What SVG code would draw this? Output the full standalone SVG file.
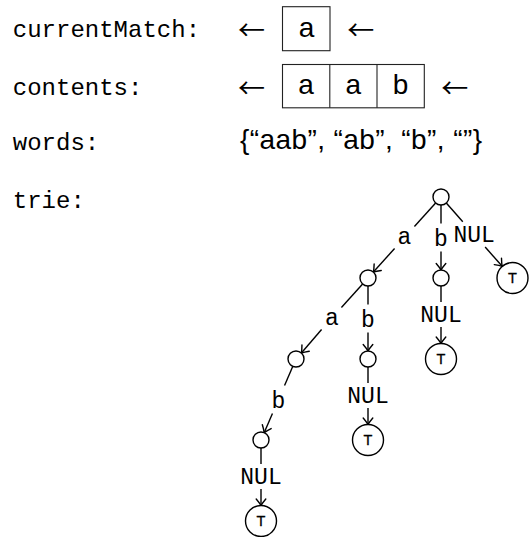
<svg xmlns="http://www.w3.org/2000/svg" width="529" height="537" viewBox="0 0 529 537">
<style>
.lbl{font-family:"Liberation Mono","DejaVu Sans Mono",monospace;font-size:24px;fill:#000}
.sans{font-family:"Liberation Sans",Arial,sans-serif;font-size:28px;fill:#000}
.arw{font-family:"Noto Sans CJK SC","DejaVu Sans",sans-serif;font-size:27px;fill:#000}
.cell{fill:none;stroke:#222;stroke-width:1.1}
.tl{font-family:"Liberation Mono","DejaVu Sans Mono",monospace;font-size:23px;fill:#000;text-anchor:middle}
.nd{fill:#fff;stroke:#000;stroke-width:1.4}
.tt{font-family:"Liberation Sans",Arial,sans-serif;font-size:14.5px;fill:#000;stroke:#000;stroke-width:0.3;text-anchor:middle}
.e{fill:none;stroke:#000;stroke-width:1.4}
.mid{text-anchor:middle}
</style>
<defs>
<marker id="arr" viewBox="-9 -7 11 14" refX="0" refY="0" markerWidth="11" markerHeight="14" orient="auto" markerUnits="userSpaceOnUse">
<path d="M-6.5,-4.8 Q-2.5,-1.4 0,0 Q-2.5,1.4 -6.5,4.8" fill="none" stroke="#000" stroke-width="1.4" stroke-linecap="round"/>
</marker>
</defs>
<rect width="529" height="537" fill="#fff"/>

<g id="labels">
<text class="lbl" x="12.8" y="36.5">currentMatch:</text>
<text class="lbl" x="12.8" y="94.5">contents:</text>
<text class="lbl" x="12.8" y="150">words:</text>
<text class="lbl" x="12.8" y="208.3">trie:</text>
</g>

<g id="currentMatch">
<text class="arw" x="238" y="39.5">←</text>
<rect class="cell" x="282.5" y="6.7" width="47.5" height="44"/>
<text class="sans mid" x="306.5" y="36.7">a</text>
<text class="arw" x="347.3" y="39.5">←</text>
</g>

<g id="contents">
<text class="arw" x="238" y="97.8">←</text>
<rect class="cell" x="282.5" y="64.5" width="141.8" height="43.3"/>
<line class="cell" x1="329.8" y1="64.5" x2="329.8" y2="107.8"/>
<line class="cell" x1="377" y1="64.5" x2="377" y2="107.8"/>
<text class="sans mid" x="306" y="94.3">a</text>
<text class="sans mid" x="353.4" y="94.3">a</text>
<text class="sans mid" x="400.6" y="94.3">b</text>
<text class="arw" x="441.3" y="97.8">←</text>
</g>

<g id="words">
<text class="sans" x="240" y="148.5" textLength="242">{“aab”, “ab”, “b”, “”}</text>
</g>

<g id="connectors">
<path class="e" d="M435.64,202.94 L414.41,226.5"/>
<path class="e" d="M394.58,248.5 L373.36,272.06" marker-end="url(#arr)"/>
<text class="tl" x="404.5" y="243.55">a</text>

<path class="e" d="M441,205 L441,223.5"/>
<path class="e" d="M441,251.5 L441,270" marker-end="url(#arr)"/>
<text class="tl" x="441" y="245.85">b</text>

<path class="e" d="M446.29,203 L462.8,221.7"/>
<path class="e" d="M485.13,247 L502.2,266.3" marker-end="url(#arr)"/>
<text class="tl" x="474.1" y="242.4">NUL</text>

<path class="e" d="M362.64,283.94 L341.41,307.5"/>
<path class="e" d="M321.58,329.5 L301.36,353.06" marker-end="url(#arr)"/>
<text class="tl" x="332" y="324.55">a</text>

<path class="e" d="M368,286 L368,304.5"/>
<path class="e" d="M368,332.5 L368,351" marker-end="url(#arr)"/>
<text class="tl" x="368" y="326.85">b</text>

<path class="e" d="M441,286 L441,302"/>
<path class="e" d="M441,327 L441,343.5" marker-end="url(#arr)"/>
<text class="tl" x="441" y="322.4">NUL</text>

<path class="e" d="M292.83,366.34 L284.55,385.5"/>
<path class="e" d="M272.45,413.5 L264.17,432.66" marker-end="url(#arr)"/>
<text class="tl" x="278.5" y="407.85">b</text>

<path class="e" d="M368,367 L368,383"/>
<path class="e" d="M368,408 L368,424.5" marker-end="url(#arr)"/>
<text class="tl" x="368" y="403.4">NUL</text>

<path class="e" d="M261,448 L261,464"/>
<path class="e" d="M261,489 L261,505.5" marker-end="url(#arr)"/>
<text class="tl" x="261" y="484.4">NUL</text>
</g>

<g id="n-root"><circle class="nd" cx="441" cy="197" r="8"/></g>
<g id="n-a"><circle class="nd" cx="368" cy="278" r="8"/></g>
<g id="n-b"><circle class="nd" cx="441" cy="278" r="8"/></g>
<g id="n-nul"><circle class="nd" cx="512.5" cy="278" r="15.5"/><text class="tt" x="512.5" y="283.2">T</text></g>
<g id="n-aa"><circle class="nd" cx="296" cy="359" r="8"/></g>
<g id="n-ab"><circle class="nd" cx="368" cy="359" r="8"/></g>
<g id="n-b-nul"><circle class="nd" cx="441" cy="359" r="15.5"/><text class="tt" x="441" y="364.2">T</text></g>
<g id="n-aab"><circle class="nd" cx="261" cy="440" r="8"/></g>
<g id="n-ab-nul"><circle class="nd" cx="368" cy="440" r="15.5"/><text class="tt" x="368" y="445.2">T</text></g>
<g id="n-aab-nul"><circle class="nd" cx="261" cy="521" r="15.5"/><text class="tt" x="261" y="526.2">T</text></g>
</svg>
